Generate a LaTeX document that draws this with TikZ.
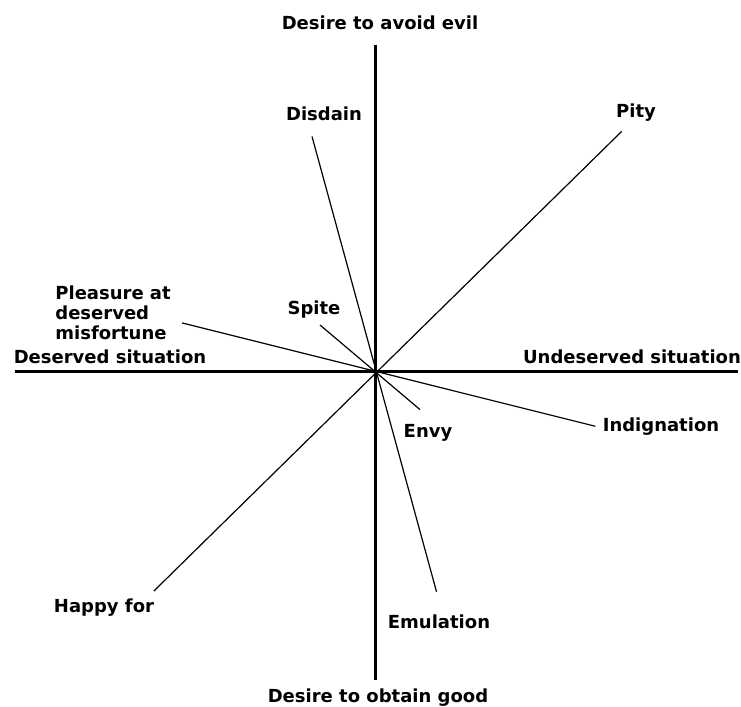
\documentclass[tikz,border=0pt]{standalone}
\usepackage{fontspec}
\setmainfont{DejaVu Sans}
\begin{document}
\begin{tikzpicture}[x=0.5pt,y=0.5pt,
        axis/.style={line width=1.5pt},
        ray/.style={line width=0.6pt},
        lbl/.style={font=\bfseries\fontsize{9}{10}\selectfont,inner sep=0pt}]
    \useasboundingbox (-376,-335) rectangle (365,372);
    \coordinate (o) at (0,0);
    % axes
    \coordinate (top) at (0,327);
    \coordinate (bot) at (0,-308);
    \coordinate (lft) at (-361,0);
    \coordinate (rgt) at (362,0);
    \draw[axis] (bot) -- (top);
    \draw[axis] (lft) -- (rgt);
    % rays through the centre
    \coordinate (pity) at (44.4:344);
    \coordinate (happy) at (224.6:312);
    \coordinate (disdain) at (105.2:244);
    \coordinate (emul) at (285.4:228);
    \coordinate (pleas) at (165.8:200);
    \coordinate (indig) at (346.1:226);
    \coordinate (spite) at (140:73);
    \coordinate (envy) at (319.5:58);
    \draw[ray] (happy) -- (pity);
    \draw[ray] (disdain) -- (emul);
    \draw[ray] (pleas) -- (indig);
    \draw[ray] (spite) -- (envy);
    % labels
    \node[lbl] (avoid) at (4,349) {Desire to avoid evil};
    \node[lbl] (obtain) at (2,-326) {Desire to obtain good};
    \node[lbl] (dsd) at (-52,258) {Disdain};
    \node[lbl] (pty) at (260,259) {Pity};
    \node[lbl,align=left,anchor=west] (plm) at (-321,59)
        {Pleasure at\\deserved\\misfortune};
    \node[lbl] (dsv) at (-266,15) {Deserved situation};
    \node[lbl] (udsv) at (256,15) {Undeserved situation};
    \node[lbl] (spt) at (-62,62) {Spite};
    \node[lbl] (ind) at (285,-55) {Indignation};
    \node[lbl] (env) at (52,-61) {Envy};
    \node[lbl] (hpy) at (-272,-236) {Happy for};
    \node[lbl] (emu) at (63,-250) {Emulation};
\end{tikzpicture}
\end{document}
